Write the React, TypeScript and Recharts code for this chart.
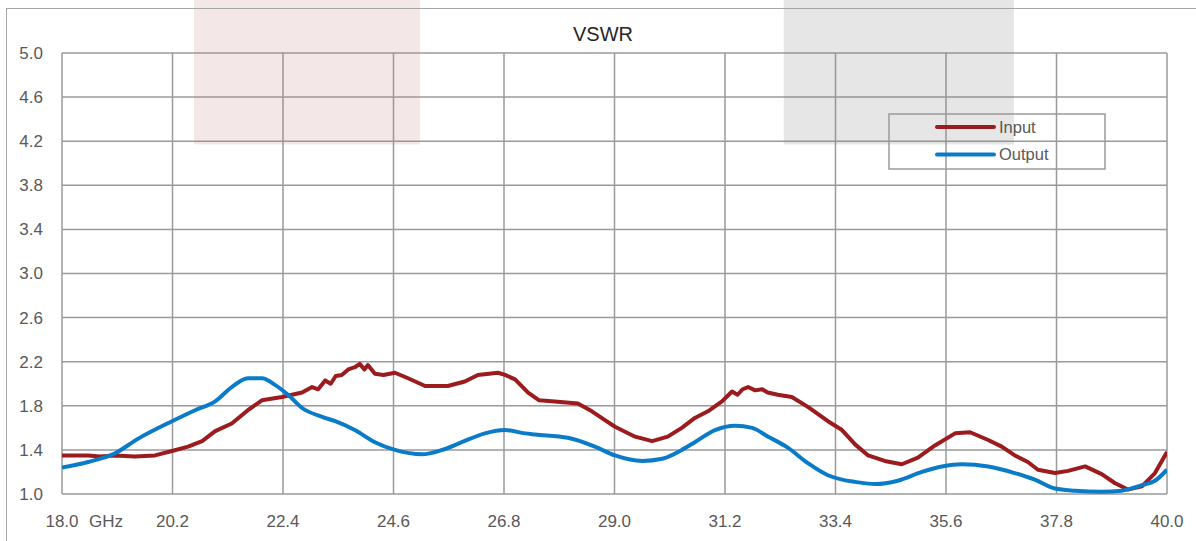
import React from "react";
import {
  LineChart,
  Line,
  XAxis,
  YAxis,
  CartesianGrid,
  ReferenceArea,
  Legend,
} from "recharts";

const freqTicks = [18.0, 20.2, 22.4, 24.6, 26.8, 29.0, 31.2, 33.4, 35.6, 37.8, 40.0];
const vswrTicks = [1.0, 1.4, 1.8, 2.2, 2.6, 3.0, 3.4, 3.8, 4.2, 4.6, 5.0];

// Input VSWR (red)
const inputFreq = [
  18.0, 18.26, 18.52, 18.76, 19.06, 19.45, 19.85, 20.19, 20.51, 20.79, 21.05, 21.38, 21.7,
  21.98, 22.38, 22.78, 22.98, 23.1, 23.24, 23.35, 23.45, 23.57, 23.7, 23.83, 23.93, 24.02,
  24.09, 24.23, 24.4, 24.63, 24.89, 25.23, 25.68, 26.02, 26.28, 26.68, 26.82, 27.02, 27.28,
  27.5, 27.81, 28.27, 28.55, 28.81, 29.01, 29.41, 29.75, 30.06, 30.34, 30.6, 30.86, 31.14,
  31.34, 31.45, 31.55, 31.66, 31.8, 31.94, 32.05, 32.25, 32.53, 32.85, 33.25, 33.53, 33.79,
  34.05, 34.38, 34.72, 35.04, 35.38, 35.78, 36.08, 36.44, 36.71, 36.97, 37.23, 37.43, 37.77,
  38.03, 38.37, 38.7, 38.96, 39.22, 39.5, 39.76, 40.0,
];
const inputVswr = [
  1.35, 1.35, 1.35, 1.34, 1.35, 1.34, 1.35, 1.39, 1.43, 1.48, 1.57, 1.64, 1.76,
  1.85, 1.88, 1.92, 1.97, 1.95, 2.03, 2.0, 2.07, 2.08, 2.13, 2.15, 2.18, 2.13,
  2.17, 2.09, 2.08, 2.1, 2.05, 1.98, 1.98, 2.02, 2.08, 2.1, 2.08, 2.04, 1.92,
  1.85, 1.84, 1.82, 1.75, 1.67, 1.61, 1.52, 1.48, 1.52, 1.6, 1.69, 1.75, 1.84,
  1.93, 1.9, 1.95, 1.97, 1.94, 1.95, 1.92, 1.9, 1.88, 1.79, 1.66, 1.58, 1.45,
  1.35, 1.3, 1.27, 1.33, 1.44, 1.55, 1.56, 1.49, 1.43, 1.35, 1.29, 1.22, 1.19,
  1.21, 1.25, 1.18, 1.1, 1.04, 1.07, 1.19, 1.38,
];

// Output VSWR (blue)
const outputFreq = [
  18.0, 18.52, 19.06, 19.51, 20.19, 20.65, 21.05, 21.38, 21.7, 21.98, 22.24, 22.5, 22.78,
  23.18, 23.44, 23.83, 24.23, 24.63, 25.17, 25.57, 25.96, 26.42, 26.82, 27.22, 27.42, 28.07,
  28.61, 29.01, 29.55, 29.95, 30.34, 30.6, 31.0, 31.4, 31.74, 32.06, 32.45, 32.85, 33.25,
  33.53, 33.79, 34.19, 34.64, 35.12, 35.52, 35.92, 36.44, 36.97, 37.37, 37.77, 38.17, 38.7,
  39.1, 39.5, 39.76, 40.0,
];
const outputVswr = [
  1.24, 1.29, 1.37, 1.5, 1.66, 1.76, 1.84, 1.97, 2.05, 2.05, 1.99, 1.9, 1.78,
  1.7, 1.66, 1.58, 1.47, 1.4, 1.36, 1.4, 1.47, 1.55, 1.58, 1.55, 1.54, 1.51,
  1.43, 1.35, 1.3, 1.32, 1.4, 1.47, 1.58, 1.62, 1.6, 1.52, 1.42, 1.28, 1.17,
  1.13, 1.11, 1.09, 1.12, 1.2, 1.25, 1.27, 1.25, 1.19, 1.13, 1.05, 1.03, 1.02,
  1.03, 1.08, 1.12, 1.22,
];

const inputData = inputFreq.map((f, i) => ({ f, v: inputVswr[i] }));
const outputData = outputFreq.map((f, i) => ({ f, v: outputVswr[i] }));

const FONT = '"Liberation Sans", Arial, sans-serif';
const TEXT = "#595959";
const GRID = "#9a9a9a";
const RED = "#9b1b1e";
const BLUE = "#0a7bc8";

// eslint-disable-next-line @typescript-eslint/no-explicit-any
function FreqTick({ x, y, payload, index }: any) {
  return (
    <g>
      <text x={x} y={y + 27} dy="0.35em" textAnchor="middle" fill={TEXT} fontSize={17} fontFamily={FONT}>
        {Number(payload.value).toFixed(1)}
      </text>
      {index === 0 && (
        <text x={x + 27} y={y + 27} dy="0.35em" textAnchor="start" fill={TEXT} fontSize={17} fontFamily={FONT}>
          GHz
        </text>
      )}
    </g>
  );
}

// eslint-disable-next-line @typescript-eslint/no-explicit-any
function VswrTick({ x, y, payload }: any) {
  return (
    <text x={x - 19} y={y} dy="0.35em" textAnchor="end" fill={TEXT} fontSize={17} fontFamily={FONT}>
      {Number(payload.value).toFixed(1)}
    </text>
  );
}

function LegendBox() {
  const items = [
    { name: "Input", color: RED },
    { name: "Output", color: BLUE },
  ];
  return (
    <svg width={218} height={57} style={{ display: "block" }}>
      <rect x={1} y={1} width={216} height={55} fill="none" stroke={GRID} strokeWidth={1.5} />
      {items.map((it, i) => (
        <g key={it.name}>
          <line x1={49} x2={106} y1={14 + i * 27.5} y2={14 + i * 27.5} stroke={it.color} strokeWidth={4} strokeLinecap="round" />
          <text x={111} y={14 + i * 27.5} dy="0.35em" fill={TEXT} fontSize={16.5} fontFamily={FONT}>
            {it.name}
          </text>
        </g>
      ))}
    </svg>
  );
}

export default function App() {
  return (
    <div style={{ position: "absolute", left: 0, top: 0, width: 1196, height: 541, overflow: "hidden", background: "#fff" }}>
      <LineChart
        width={1196}
        height={541}
        margin={{ top: 53, right: 29, bottom: 0, left: 0 }}
        style={{ position: "absolute", left: 0, top: 0 }}
      >
        <ReferenceArea x1={20.63} x2={25.13} y1={4.17} y2={5.6} ifOverflow="visible" fill="#c08080" fillOpacity={0.19} stroke="none" />
        <ReferenceArea x1={32.37} x2={36.95} y1={4.17} y2={5.6} ifOverflow="visible" fill="#808080" fillOpacity={0.2} stroke="none" />
        <CartesianGrid stroke={GRID} strokeWidth={1.5} />
        <XAxis
          dataKey="f"
          type="number"
          domain={[18, 40]}
          ticks={freqTicks}
          allowDataOverflow
          axisLine={false}
          tickLine={false}
          tickSize={0}
          tickMargin={0}
          height={47}
          tick={<FreqTick />}
          interval={0}
        />
        <YAxis
          type="number"
          domain={[1, 5]}
          ticks={vswrTicks}
          allowDataOverflow
          axisLine={false}
          tickLine={false}
          tickSize={0}
          tickMargin={0}
          width={62}
          tick={<VswrTick />}
          interval={0}
        />
        <Legend
          layout="vertical"
          align="center"
          verticalAlign="middle"
          content={<LegendBox />}
          wrapperStyle={{ position: "absolute", left: 888, top: 113, width: 218, height: 57 }}
        />
        <Line
          data={inputData}
          dataKey="v"
          name="Input"
          type="linear"
          stroke={RED}
          strokeWidth={4}
          strokeLinejoin="round"
          dot={false}
          isAnimationActive={false}
        />
        <Line
          data={outputData}
          dataKey="v"
          name="Output"
          type="monotone"
          stroke={BLUE}
          strokeWidth={4}
          dot={false}
          isAnimationActive={false}
        />
      </LineChart>
      <div
        style={{
          position: "absolute",
          left: 0,
          top: 22,
          width: 1206,
          textAlign: "center",
          fontFamily: FONT,
          fontSize: 20,
          color: "#262626",
          lineHeight: "24px",
        }}
      >
        VSWR
      </div>
      <div
        style={{
          position: "absolute",
          left: 6,
          top: 8,
          width: 1400,
          height: 800,
          border: "1.5px solid #a6a6a6",
          pointerEvents: "none",
        }}
      />
    </div>
  );
}
